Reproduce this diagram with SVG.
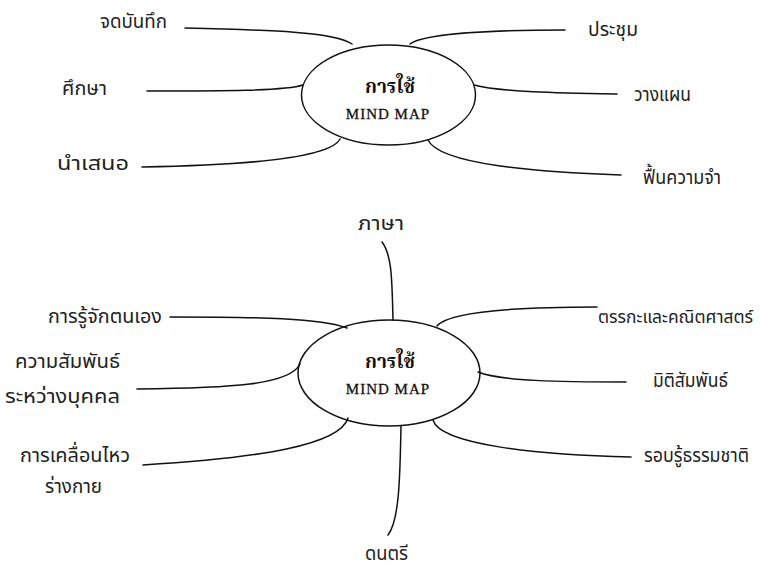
<svg xmlns="http://www.w3.org/2000/svg" width="762" height="569" viewBox="0 0 762 569">
<style>
.bg{fill:#fff}
.el{fill:none;stroke:#111;stroke-width:1.5}
.ln{fill:none;stroke:#111;stroke-width:1.5;stroke-linecap:round}
.lb{font-family:"Noto Sans Thai","Noto Sans","DejaVu Sans",sans-serif;font-size:20px;fill:#222}
.sm{font-size:18px}
.t1{font-family:"Noto Serif Thai","Noto Sans Thai","Liberation Serif",serif;font-size:19px;font-weight:bold;fill:#111;text-anchor:middle}
.t2{font-family:"Liberation Serif",serif;font-size:15px;letter-spacing:1px;fill:#111;stroke:#111;stroke-width:0.3;text-anchor:middle}
</style>
<rect class="bg" x="0" y="0" width="762" height="569"/>
<g id="connectors">
<path class="ln" d="M185,28 C270,30 335,32 352,44"/>
<path class="ln" d="M147,91 C220,91 285,91 303,85"/>
<path class="ln" d="M142,167 C250,165 330,158 340,139"/>
<path class="ln" d="M410,44 C425,33 500,30 565,30"/>
<path class="ln" d="M474,85 C500,92 560,93 617,94"/>
<path class="ln" d="M428,140 C440,165 540,172 621,175"/>
<path class="ln" d="M170,317 C260,317 320,318 347,328"/>
<path class="ln" d="M137,389 C230,388 290,385 300,364"/>
<path class="ln" d="M143,465 C260,458 340,445 348,418"/>
<path class="ln" d="M382,242 C392,255 392,280 393,320"/>
<path class="ln" d="M401,426 C400,470 400,520 388,535"/>
<path class="ln" d="M437,326 C450,310 530,307 597,307"/>
<path class="ln" d="M478,372 C500,381 560,382 626,382"/>
<path class="ln" d="M433,420 C440,445 540,455 631,457"/>
</g>
<g id="center-top">
<ellipse class="el" cx="388.5" cy="95" rx="87" ry="50"/>
<text class="t1" x="390" y="93">การใช้</text>
<text class="t2" x="388" y="119">MIND MAP</text>
</g>
<g id="center-bottom">
<ellipse class="el" cx="389" cy="373" rx="91" ry="53"/>
<text class="t1" x="390" y="368">การใช้</text>
<text class="t2" x="388" y="394">MIND MAP</text>
</g>
<g id="n-record"><text class="lb" x="100" y="28" textLength="67" lengthAdjust="spacingAndGlyphs">จดบันทึก</text></g>
<g id="n-study"><text class="lb" x="62" y="95" textLength="45" lengthAdjust="spacingAndGlyphs">ศึกษา</text></g>
<g id="n-present"><text class="lb" x="57" y="170" textLength="72" lengthAdjust="spacingAndGlyphs">นำเสนอ</text></g>
<g id="n-meeting"><text class="lb" x="588" y="36" textLength="50" lengthAdjust="spacingAndGlyphs">ประชุม</text></g>
<g id="n-plan"><text class="lb" x="634" y="101" textLength="57" lengthAdjust="spacingAndGlyphs">วางแผน</text></g>
<g id="n-recall"><text class="lb" x="643" y="184" textLength="78" lengthAdjust="spacingAndGlyphs">ฟื้นความจำ</text></g>
<g id="n-language"><text class="lb" x="358" y="230" textLength="46" lengthAdjust="spacingAndGlyphs">ภาษา</text></g>
<g id="n-self"><text class="lb" x="48" y="323" textLength="114" lengthAdjust="spacingAndGlyphs">การรู้จักตนเอง</text></g>
<g id="n-interpersonal"><text class="lb" x="15" y="368" textLength="105" lengthAdjust="spacingAndGlyphs">ความสัมพันธ์</text><text class="lb" x="5" y="403" textLength="115" lengthAdjust="spacingAndGlyphs">ระหว่างบุคคล</text></g>
<g id="n-movement"><text class="lb" x="20" y="462" textLength="110" lengthAdjust="spacingAndGlyphs">การเคลื่อนไหว</text><text class="lb" x="45" y="493" textLength="57" lengthAdjust="spacingAndGlyphs">ร่างกาย</text></g>
<g id="n-music"><text class="lb" x="365" y="560" textLength="43" lengthAdjust="spacingAndGlyphs">ดนตรี</text></g>
<g id="n-logic"><text class="lb sm" x="598" y="323" textLength="155" lengthAdjust="spacingAndGlyphs">ตรรกะและคณิตศาสตร์</text></g>
<g id="n-spatial"><text class="lb" x="653" y="387" textLength="75" lengthAdjust="spacingAndGlyphs">มิติสัมพันธ์</text></g>
<g id="n-nature"><text class="lb" x="644" y="462" textLength="105" lengthAdjust="spacingAndGlyphs">รอบรู้ธรรมชาติ</text></g>
</svg>
